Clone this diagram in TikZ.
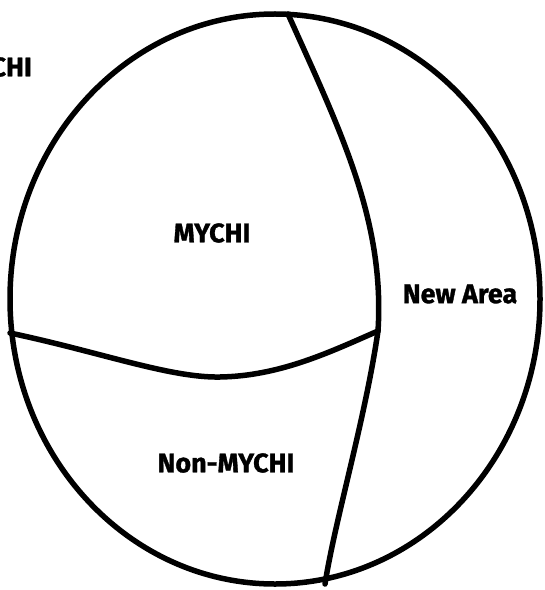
\documentclass[tikz,border=0pt]{standalone}
\usepackage{fontspec}
\setmainfont{Fira Sans}[BoldFeatures={FakeBold=1.2}]
\begin{document}
\begin{tikzpicture}[x=1bp,y=-1bp,
  lbl/.style={font=\fontsize{27}{30}\selectfont\bfseries,inner sep=0pt},
  edge/.style={line width=5.5bp,line join=round,line cap=round}]
\useasboundingbox (0,0) rectangle (545,590);
\clip (0,0) rectangle (545,590);
\draw[edge] (275,299) ellipse [x radius=265, y radius=285];
\coordinate (top) at (288,14);
\coordinate (mid) at (378,331);
\coordinate (bot) at (325,584);
\coordinate (left) at (10,333);
\draw[edge] (top) .. controls (340,130) and (385,220) .. (mid)
  .. controls (365,420) and (335,520) .. (bot);
\draw[edge] (left) .. controls (100,352) and (170,378) .. (220,377)
  .. controls (280,376) and (330,352) .. (mid);
\node[lbl] (mychi) at (212,233) {MYCHI};
\node[lbl] (new) at (460,294) {New Area};
\node[lbl] (non) at (226,463) {Non-MYCHI};
\node[lbl,anchor=east] (cut) at (32,67) {MYCHI};
\end{tikzpicture}
\end{document}
